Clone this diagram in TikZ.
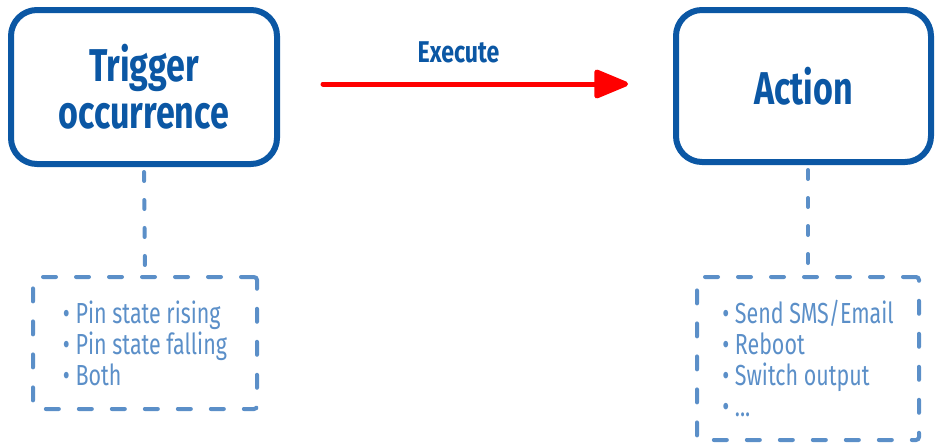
\documentclass[tikz,border=0pt]{standalone}
\usepackage{fontspec}
\usetikzlibrary{arrows.meta}
\newfontfamily\osw[FakeStretch=0.74]{Fira Sans}
\newfontfamily\oswlist[FakeStretch=0.74]{Fira Sans}
\newfontfamily\oswexec[FakeStretch=0.77]{Fira Sans}
\definecolor{darkblue}{HTML}{0B57A4}
\definecolor{lightblue}{HTML}{5B8FC8}
\definecolor{arrowred}{HTML}{FF0000}
\tikzset{
  titlebox/.style={draw=darkblue, line width=6pt, rounded corners=26pt, text=darkblue,
    font=\osw\bfseries\fontsize{46}{47}\selectfont, align=center, inner sep=0pt},
  listbox/.style={draw=lightblue, line width=4pt, rounded corners=3pt, line cap=round,
    dash pattern=on 13pt off 20pt, text=lightblue,
    font=\oswlist\fontsize{29}{31}\selectfont, align=left, inner sep=0pt},
  connector/.style={draw=lightblue, line width=4pt, line cap=round, dash pattern=on 9pt off 19pt},
  execarrow/.style={draw=arrowred, line width=5pt, line cap=round,
    -{Triangle[length=38pt, width=30pt, round]}},
  execlabel/.style={text=darkblue, font=\oswexec\bfseries\fontsize{30}{32}\selectfont, inner sep=0pt}
}
\begin{document}
\begin{tikzpicture}[x=1pt, y=-1pt]
\useasboundingbox (0,0) rectangle (935,447);
\node[titlebox, minimum width=266pt, minimum height=154pt] (trig) at (144,87) {Trigger\\occurrence};
\node[titlebox, minimum width=255pt, minimum height=152pt] (act) at (803.5,86) {Action};
\node[listbox, minimum width=224pt, minimum height=132pt] (lbox) at (145,343)
  {\textbullet\ Pin state rising\\\textbullet\ Pin state falling\\\textbullet\ Both};
\node[listbox, minimum width=222pt, minimum height=163pt] (rbox) at (808,358.5)
  {\textbullet\ Send SMS/Email\\\textbullet\ Reboot\\\textbullet\ Switch output\\\textbullet\ ...};
\draw[connector] ([yshift=-5pt]trig.south) -- (lbox.north);
\draw[connector] ([yshift=-5pt]act.south -| rbox.north) -- (rbox.north);
\draw[execarrow, shorten <=43pt, shorten >=45pt] ([yshift=3pt]trig.east) -- ([yshift=2pt]act.west)
  node[midway, execlabel, yshift=32pt, xshift=-18pt] (exec) {Execute};
\end{tikzpicture}
\end{document}
